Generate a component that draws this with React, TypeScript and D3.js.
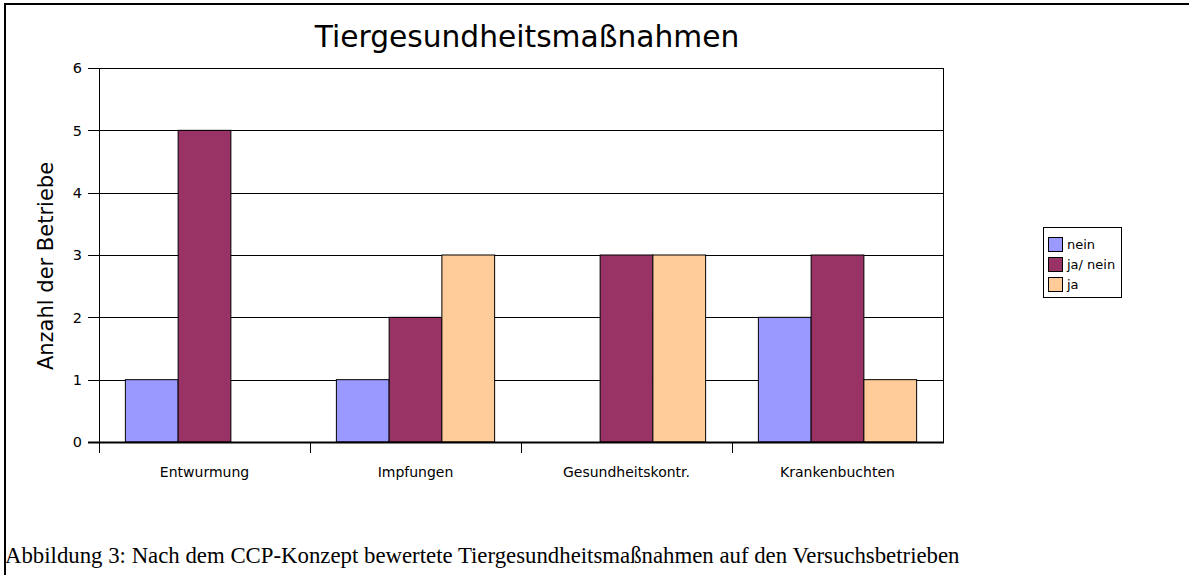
import { useEffect, useRef } from 'react';
import * as d3 from 'd3';

const categories = ['Entwurmung', 'Impfungen', 'Gesundheitskontr.', 'Krankenbuchten'];
const seriesNames = ['nein', 'ja/ nein', 'ja'];
const nein = [1, 1, 0, 2];
const jaNein = [5, 2, 3, 3];
const ja = [0, 3, 3, 1];
const yTicks = [0, 1, 2, 3, 4, 5, 6];
const colors = ['#9999ff', '#993366', '#ffcc99'];

const title = 'Tiergesundheitsmaßnahmen';
const yLabel = 'Anzahl der Betriebe';
const caption = 'Abbildung 3: Nach dem CCP-Konzept bewertete Tiergesundheitsmaßnahmen auf den Versuchsbetrieben';

const App = () => {
    const svgRef = useRef<SVGSVGElement | null>(null);
    const width = 1189;
    const height = 575;
    const plot = { left: 99, right: 943, top: 68, bottom: 442 };
    const font = '"DejaVu Sans", Verdana, sans-serif';

    useEffect(() => {
        const svg = d3.select(svgRef.current);
        svg.selectAll('*').remove();

        const values = [nein, jaNein, ja];
        const rows = categories.map((c, i) => ({
            cat: c,
            vals: seriesNames.map((s, j) => ({ name: s, value: values[j][i], idx: j })),
        }));

        // outer frame (top + left only)
        svg.append('line').attr('x1', 4).attr('x2', width).attr('y1', 4).attr('y2', 4)
            .attr('stroke', '#000').attr('stroke-width', 2);
        svg.append('line').attr('x1', 5).attr('x2', 5).attr('y1', 4).attr('y2', height)
            .attr('stroke', '#000').attr('stroke-width', 2);

        const x0 = d3.scaleBand()
            .domain(categories)
            .range([plot.left, plot.right])
            .padding(0);

        const x1 = d3.scaleBand()
            .domain(seriesNames)
            .range([0, x0.bandwidth()])
            .paddingInner(0)
            .paddingOuter(0.5);

        const y = d3.scaleLinear()
            .domain([0, 6])
            .range([plot.bottom, plot.top]);

        // gridlines
        svg.append('g')
            .selectAll('line')
            .data(yTicks)
            .join('line')
            .attr('x1', plot.left - 11)
            .attr('x2', plot.right)
            .attr('y1', d => Math.round(y(d)) + 0.5)
            .attr('y2', d => Math.round(y(d)) + 0.5)
            .attr('stroke', '#000')
            .attr('stroke-width', 1);

        // y tick labels
        svg.append('g')
            .selectAll('text')
            .data(yTicks)
            .join('text')
            .attr('x', plot.left - 17)
            .attr('y', d => y(d))
            .attr('dy', '0.36em')
            .attr('text-anchor', 'end')
            .attr('font-family', font)
            .attr('font-size', 14.5)
            .text(d => d);

        // bars
        const groups = svg.append('g')
            .selectAll('g')
            .data(rows)
            .join('g')
            .attr('transform', d => 'translate(' + x0(d.cat) + ',0)');

        groups.selectAll('rect')
            .data(d => d.vals)
            .join('rect')
            .attr('x', d => x1(d.name) as number)
            .attr('y', d => y(d.value))
            .attr('width', x1.bandwidth())
            .attr('height', d => y(0) - y(d.value))
            .attr('fill', d => colors[d.idx])
            .attr('stroke', '#000')
            .attr('stroke-width', 1);

        // plot frame: left axis, right edge, bottom axis
        svg.append('line').attr('x1', plot.left + 0.5).attr('x2', plot.left + 0.5)
            .attr('y1', plot.top).attr('y2', plot.bottom).attr('stroke', '#000');
        svg.append('line').attr('x1', plot.right + 0.5).attr('x2', plot.right + 0.5)
            .attr('y1', plot.top).attr('y2', plot.bottom).attr('stroke', '#000');
        svg.append('line').attr('x1', plot.left - 11).attr('x2', plot.right + 1)
            .attr('y1', plot.bottom + 0.5).attr('y2', plot.bottom + 0.5)
            .attr('stroke', '#000').attr('stroke-width', 2);

        // x ticks at category boundaries
        svg.append('g')
            .selectAll('line')
            .data(categories)
            .join('line')
            .attr('x1', d => Math.round(x0(d) as number) + 0.5)
            .attr('x2', d => Math.round(x0(d) as number) + 0.5)
            .attr('y1', plot.bottom)
            .attr('y2', plot.bottom + 11)
            .attr('stroke', '#000');

        // x labels
        svg.append('g')
            .selectAll('text')
            .data(categories)
            .join('text')
            .attr('x', d => (x0(d) as number) + x0.bandwidth() / 2)
            .attr('y', 477)
            .attr('text-anchor', 'middle')
            .attr('font-family', font)
            .attr('font-size', 14)
            .text(d => d);

        // title
        svg.append('text')
            .attr('x', 527)
            .attr('y', 47)
            .attr('text-anchor', 'middle')
            .attr('font-family', font)
            .attr('font-size', 29.7)
            .text(title);

        // y label
        svg.append('text')
            .attr('transform', 'translate(53,266) rotate(-90)')
            .attr('text-anchor', 'middle')
            .attr('font-family', font)
            .attr('font-size', 21)
            .text(yLabel);

        // legend
        const legend = svg.append('g').attr('transform', 'translate(1043,227)');
        legend.append('rect')
            .attr('x', 0.5).attr('y', 0.5)
            .attr('width', 78).attr('height', 70)
            .attr('fill', '#fff').attr('stroke', '#000');
        const items = legend.selectAll('g.item')
            .data(seriesNames)
            .join('g')
            .attr('class', 'item')
            .attr('transform', (d, i) => 'translate(5,' + (10 + i * 20) + ')');
        items.append('rect')
            .attr('x', 0.5).attr('y', 0.5)
            .attr('width', 14).attr('height', 14)
            .attr('fill', (d, i) => colors[i])
            .attr('stroke', '#000');
        items.append('text')
            .attr('x', 19)
            .attr('y', 7.5)
            .attr('dy', '0.36em')
            .attr('font-family', font)
            .attr('font-size', 13)
            .text(d => d);

        // caption
        svg.append('text')
            .attr('x', 5)
            .attr('y', 563)
            .attr('font-family', '"Liberation Serif", "Times New Roman", serif')
            .attr('font-size', 22.8)
            .text(caption);
    }, []);

    return (
        <div>
            <svg ref={svgRef} width={width} height={height}
                style={{ position: 'absolute', left: 0, top: 0, background: '#fff' }}></svg>
        </div>
    );
};

export default App;
